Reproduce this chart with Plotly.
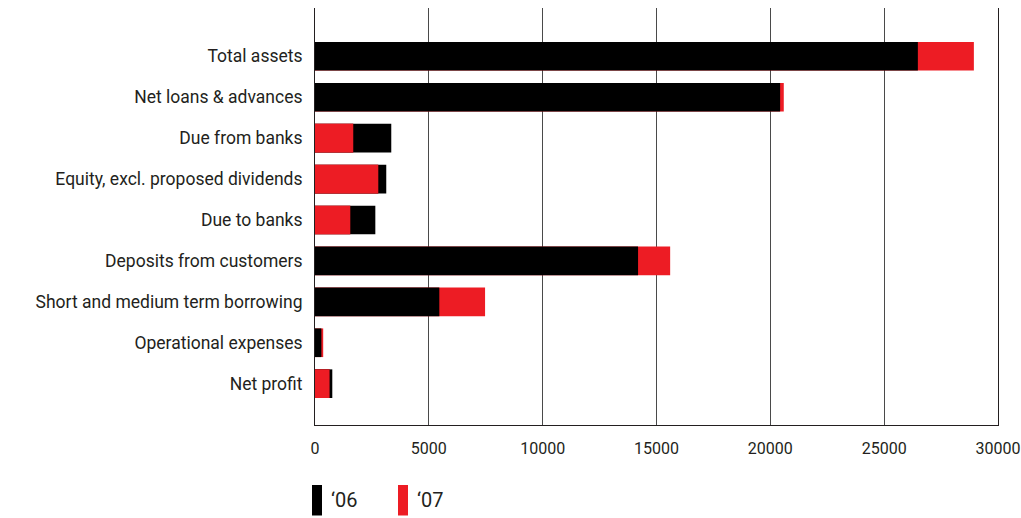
import plotly.graph_objects as go

categories = [
    "Total assets",
    "Net loans & advances",
    "Due from banks",
    "Equity, excl. proposed dividends",
    "Due to banks",
    "Deposits from customers",
    "Short and medium term borrowing",
    "Operational expenses",
    "Net profit",
]
values_06 = [26480, 20430, 3350, 3130, 2650, 14190, 5460, 280, 760]
values_07 = [28940, 20590, 1680, 2780, 1550, 15600, 7470, 360, 640]
series_names = ["\u201806", "\u201807"]
x_ticks = [0, 5000, 10000, 15000, 20000, 25000, 30000]

BLACK = "#000000"
RED = "#ED1C24"
TEXT = "#231F20"
FONT = "Roboto"

fig = go.Figure()
# '07 drawn behind, '06 over it, then '07 again on top where it is the smaller value
fig.add_trace(go.Bar(y=categories, x=values_07, orientation="h", marker_color=RED,
                     marker_line_width=0, width=0.7, name=series_names[1], showlegend=False))
fig.add_trace(go.Bar(y=categories, x=values_06, orientation="h", marker_color=BLACK,
                     marker_line_width=0, width=0.7, name=series_names[0], showlegend=False))
front_07 = [v7 if v7 < v6 else None for v6, v7 in zip(values_06, values_07)]
fig.add_trace(go.Bar(y=categories, x=front_07, orientation="h", marker_color=RED,
                     marker_line_width=0, width=0.7, name=series_names[1], showlegend=False))

fig.update_layout(
    width=1021, height=518,
    margin=dict(l=315, r=23, t=8, b=93, autoexpand=False),
    barmode="overlay",
    paper_bgcolor="white", plot_bgcolor="white",
    font=dict(family=FONT, size=16, color=TEXT),
)
fig.update_xaxes(
    range=[0, 30000], tickvals=x_ticks, ticktext=[str(t) for t in x_ticks],
    showgrid=True, gridcolor="#4a4a4a", gridwidth=1,
    zeroline=False, showline=True, linecolor="#231F20", linewidth=1,
    ticks="", ticklabelstandoff=9, tickfont=dict(size=16, color=TEXT),
    automargin=False,
)
fig.update_yaxes(
    type="category", categoryorder="array", categoryarray=categories,
    range=[9.01, -1.18],
    showgrid=False, zeroline=False, showline=True, mirror=True,
    linecolor="#231F20", linewidth=1,
    ticks="", ticklabelstandoff=8, tickfont=dict(size=17.5, color=TEXT),
    automargin=False,
)

# custom legend (tall swatches) below the axis
plot_w = 1021 - 315 - 23
plot_h = 518 - 8 - 93
def px_x(x):
    return (x - 315) / plot_w
def px_y(y):
    return (425 - y) / plot_h

legend_items = [(series_names[0], BLACK, 312), (series_names[1], RED, 398)]
for label, color, x0 in legend_items:
    fig.add_shape(type="rect", xref="paper", yref="paper",
                  x0=px_x(x0), x1=px_x(x0 + 10), y0=px_y(485), y1=px_y(515.5),
                  fillcolor=color, line_width=0)
    fig.add_annotation(xref="paper", yref="paper", x=px_x(x0 + 17), y=px_y(500),
                       text=label, showarrow=False, xanchor="left", yanchor="middle",
                       font=dict(family=FONT, size=20, color=TEXT))

fig.write_html("out.html")
